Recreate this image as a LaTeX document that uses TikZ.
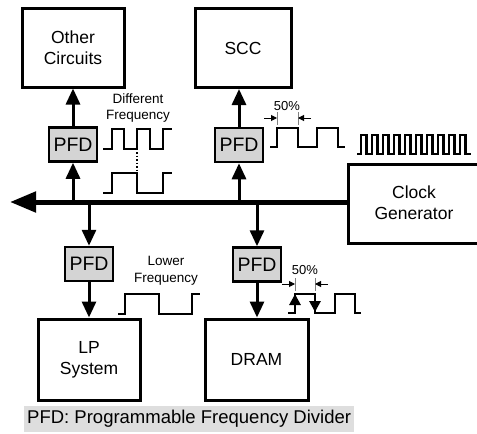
\documentclass[tikz,border=0pt]{standalone}
\usepackage{fontspec}
\setmainfont{Liberation Sans}
\usetikzlibrary{arrows.meta}
\definecolor{pfdgray}{RGB}{212,212,212}
\definecolor{leggray}{RGB}{222,222,222}
\begin{document}
\begin{tikzpicture}[x=1pt,y=-1pt,
  blk/.style={draw, line width=3pt, minimum width=102pt, minimum height=79pt, inner sep=0pt, align=center, font=\fontsize{17.5}{21}\selectfont},
  pfd/.style={draw, line width=2.5pt, fill=pfdgray, minimum width=48pt, minimum height=34pt, inner sep=0pt, font=\fontsize{19.5}{21}\selectfont},
  conn/.style={line width=3pt, -{Triangle[length=16pt,width=14pt]}},
  wave/.style={line width=2.8pt, line join=miter},
  lbl/.style={font=\fontsize{13.5}{16.5}\selectfont, align=center, inner sep=0pt},
  dimarr/.style={line width=1pt, -{Triangle[length=6pt,width=6pt]}},
  tickln/.style={line width=0.8pt, gray},
  edgearr/.style={line width=2.8pt, -{Triangle[length=11pt,width=11pt]}}
]
\useasboundingbox (0,0) rectangle (477,434);

% blocks
\node[blk] (oc) at (73,47.5) {Other\\Circuits};
\node[blk, minimum width=96pt] (scc) at (243,48) {SCC};
\node[blk, minimum height=81pt] (lp) at (89,359.5) {LP\\System};
\node[blk, minimum width=103pt, minimum height=81pt] (dram) at (256.5,359.5) {DRAM};

% clock generator
\node[font=\fontsize{17.5}{21}\selectfont, align=center, inner sep=0pt] (clk) at (414,203) {Clock\\Generator};
\draw[line width=3pt] (478,164) -- (348,164) -- (348,243) -- (478,243);

% PFDs
\node[pfd] (p1) at (73,144.5) {PFD};
\node[pfd] (p2) at (239,145) {PFD};
\node[pfd] (p3) at (89,264) {PFD};
\node[pfd] (p4) at (257,264.5) {PFD};

% bus
\coordinate (tip) at (10,202);
\coordinate (cg) at (348,202);
\coordinate (j1) at (73,202);
\coordinate (j2) at (239,202);
\coordinate (j3) at (89,202);
\coordinate (j4) at (257,202);
\draw[line width=5pt, -{Triangle[length=26pt,width=20pt]}] (cg) -- (tip);

% branches
\draw[conn] (j1) -- (p1.south);
\draw[conn] (p1.north) -- (p1.north |- oc.south);
\draw[conn] (j2) -- (p2.south);
\draw[conn] (p2.north) -- (p2.north |- scc.south);
\draw[conn] (j3) -- (p3.north);
\draw[conn] (p3.south) -- (p3.south |- lp.north);
\draw[conn] (j4) -- (p4.north);
\draw[conn] (p4.south) -- (p4.south |- dram.north);

% different frequency
\node[lbl] (dl) at (138,108) {Different\\Frequency};
\draw[wave] (103,149) -- (112,149) -- (112,129) -- (124,129) -- (124,149) -- (137,149) -- (137,129) -- (150,129) -- (150,149) -- (163,149) -- (163,129) -- (172,129);
\draw[wave] (103,193) -- (112,193) -- (112,173) -- (137,173) -- (137,193) -- (163,193) -- (163,173) -- (172,173);
\draw[line width=1.5pt, dotted] (137,152) -- (137,172);

% SCC 50%
\node[font=\fontsize{13}{15}\selectfont, inner sep=0pt] (s50) at (287,106) {50\%};
\draw[tickln] (277,112) -- (277,125);
\draw[tickln] (298,112) -- (298,125);
\draw[dimarr] (264,118) -- (277,118);
\draw[dimarr] (311,118) -- (298,118);
\draw[wave] (270,147) -- (277,147) -- (277,128) -- (298,128) -- (298,147) -- (317,147) -- (317,128) -- (338,128) -- (338,147) -- (345,147);

% clock waveform
\draw[wave, line width=2.4pt] (357,154) -- (361,154)
  \foreach \i in {0,...,9} { -- ({361+11*\i},154) -- ({361+11*\i},135) -- ({366.5+11*\i},135) -- ({366.5+11*\i},154) }
  -- (471,154);

% lower frequency
\node[lbl] (ll) at (166,271) {Lower\\Frequency};
\draw[wave] (118,314) -- (125,314) -- (125,294) -- (159,294) -- (159,314) -- (192,314) -- (192,294) -- (200,294);

% DRAM 50%
\node[font=\fontsize{13}{15}\selectfont, inner sep=0pt] (d50) at (305,270) {50\%};
\draw[tickln] (295,278) -- (295,291);
\draw[tickln] (315,278) -- (315,291);
\draw[dimarr] (282,284) -- (295,284);
\draw[dimarr] (328,284) -- (315,284);
\draw[wave] (288,313) -- (295,313) -- (295,294) -- (315,294) -- (315,313) -- (335,313) -- (335,294) -- (355,294) -- (355,313) -- (361,313);
\draw[edgearr] (295,312) -- (295,294);
\draw[edgearr] (315,295) -- (315,312);

% legend
\node[fill=leggray, anchor=west, inner xsep=3pt, minimum height=26pt, font=\fontsize{18.5}{20}\selectfont] (leg) at (24,419) {PFD: Programmable Frequency Divider};
\end{tikzpicture}
\end{document}
